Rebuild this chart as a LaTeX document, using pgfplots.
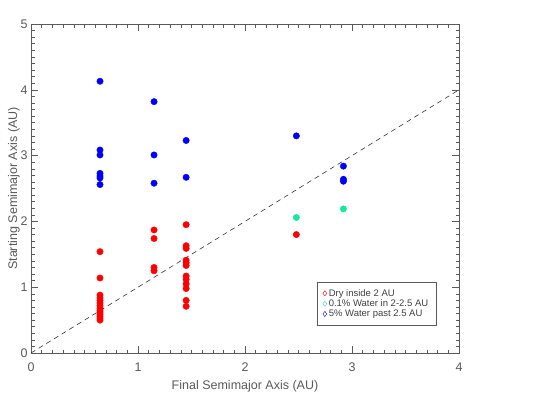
\documentclass[border=0pt]{standalone}
\usepackage{fontspec}
\setmainfont{Liberation Sans}
\usepackage{pgfplots}
\pgfplotsset{compat=1.18}

\definecolor{dryred}{RGB}{255,0,0}
\definecolor{wetgreen}{RGB}{20,235,150}
\definecolor{wetblue}{RGB}{0,0,255}
\definecolor{inkgray}{RGB}{90,90,90}

\begin{document}
\begin{tikzpicture}
\begin{axis}[
  scale only axis,
  width=428pt,
  height=329pt,
  xmin=0, xmax=4,
  ymin=0, ymax=5,
  xtick={0,1,2,3,4},
  ytick={0,1,2,3,4,5},
  minor tick num=9,
  tick align=inside,
  major tick length=7pt,
  minor tick length=3.5pt,
  axis line style={inkgray},
  every tick/.style={inkgray, line width=0.5pt},
  tick label style={inkgray,font=\fontsize{12.5}{14}\selectfont},
  label style={inkgray,font=\fontsize{12.5}{14}\selectfont},
  /pgf/number format/assume math mode=true,
  xlabel={Final Semimajor Axis (AU)},
  ylabel={Starting Semimajor Axis (AU)},
  xlabel style={yshift=-2pt},
  ylabel style={yshift=-6pt},
  xticklabel style={yshift=-6pt},
  clip=false,
  legend cell align=left,
  legend style={at={(axis cs:2.67,1.08)},anchor=north west,
    draw=inkgray, fill=white, font=\fontsize{9.5}{11}\selectfont,
    text=black!75, inner xsep=6pt, inner ysep=5pt, row sep=-2pt},
]
% dashed 1:1 line
\addplot[black!80, line width=0.6pt, dash pattern=on 5pt off 4pt, forget plot] coordinates {(0,0) (4,4)};

% dry inside 2 AU
\addplot[only marks, mark=*, mark size=3.2pt, color=dryred, forget plot] coordinates {
  (0.645,1.54) (0.645,1.14) (0.645,0.88) (0.645,0.84) (0.645,0.80)
  (0.645,0.76) (0.645,0.72) (0.645,0.68) (0.645,0.65) (0.645,0.62)
  (0.645,0.59) (0.645,0.56) (0.645,0.53) (0.645,0.50)
  (1.15,1.87) (1.15,1.74) (1.15,1.30) (1.15,1.25)
  (1.45,1.95) (1.45,1.63) (1.45,1.59) (1.45,1.41) (1.45,1.37) (1.45,1.33)
  (1.45,1.17) (1.45,1.12) (1.45,1.05) (1.45,0.98) (1.45,0.80) (1.45,0.71)
  (2.48,1.80)
};
% 0.1% water in 2-2.5 AU
\addplot[only marks, mark=*, mark size=3.2pt, color=wetgreen, forget plot] coordinates {
  (2.48,2.06) (2.92,2.19)
};
% 5% water past 2.5 AU
\addplot[only marks, mark=*, mark size=3.2pt, color=wetblue, forget plot] coordinates {
  (0.645,4.13) (0.645,3.085) (0.645,3.01) (0.645,2.73) (0.645,2.69)
  (0.645,2.66) (0.645,2.56)
  (1.15,3.82) (1.15,3.01) (1.15,2.58)
  (1.45,3.23) (1.45,2.67)
  (2.48,3.30)
  (2.92,2.84) (2.92,2.64) (2.92,2.61)
};

\addlegendimage{only marks, mark=diamond, mark size=2.6pt, color=dryred}
\addlegendentry{Dry inside 2 AU}
\addlegendimage{only marks, mark=diamond, mark size=2.6pt, color=wetgreen}
\addlegendentry{0.1\% Water in 2-2.5 AU}
\addlegendimage{only marks, mark=diamond, mark size=2.6pt, color=wetblue}
\addlegendentry{5\% Water past 2.5 AU}
\end{axis}
\pgfresetboundingbox
\path (-31pt,-49pt) rectangle (514pt,353pt);
\end{tikzpicture}
\end{document}
